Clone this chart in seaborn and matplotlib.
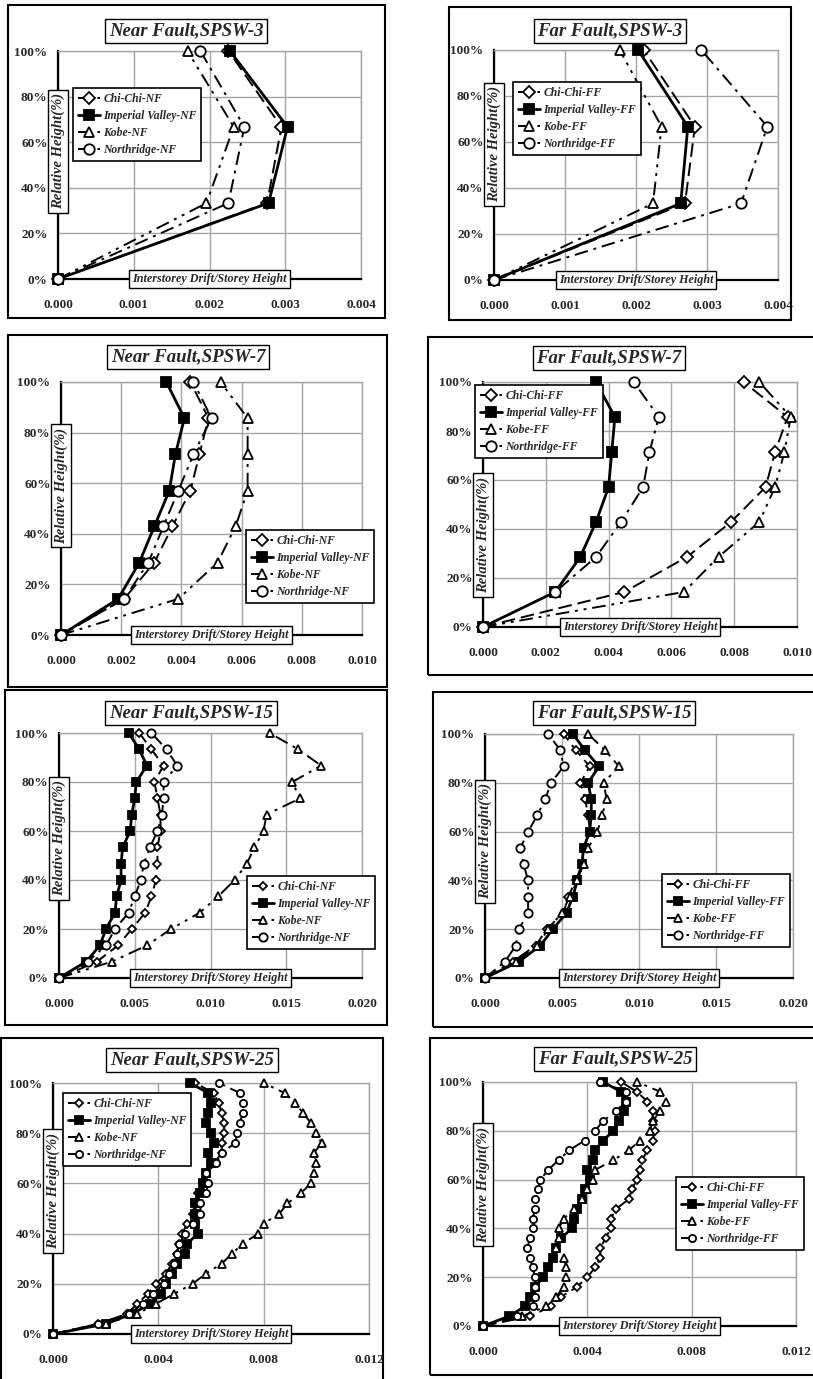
import numpy as np
import pandas as pd
import matplotlib
matplotlib.use("Agg")
import matplotlib.pyplot as plt
from matplotlib.patches import Rectangle
from matplotlib.ticker import MultipleLocator, FuncFormatter
import seaborn as sns

# Relative storey heights (%)
h3 = [0, 33.3, 66.7, 100]
h7 = [0, 14.3, 28.6, 42.9, 57.1, 71.4, 85.7, 100]
h15 = [0, 6.7, 13.3, 20, 26.7, 33.3, 40, 46.7, 53.3, 60, 66.7, 73.3, 80, 86.7, 93.3, 100]
h25 = [0, 4, 8, 12, 16, 20, 24, 28, 32, 36, 40, 44, 48, 52, 56, 60, 64, 68, 72, 76, 80,
       84, 88, 92, 96, 100]

records = ["Chi-Chi", "Imperial Valley", "Kobe", "Northridge"]

# SPSW-3
nf3_chichi = [0, 0.00276, 0.00295, 0.00225]
nf3_iv = [0, 0.00278, 0.00303, 0.00227]
nf3_kobe = [0, 0.00196, 0.00232, 0.00171]
nf3_north = [0, 0.00225, 0.00246, 0.00188]
ff3_chichi = [0, 0.00269, 0.00283, 0.00211]
ff3_iv = [0, 0.00263, 0.00273, 0.00203]
ff3_kobe = [0, 0.00224, 0.00236, 0.00177]
ff3_north = [0, 0.00348, 0.00385, 0.00292]

# SPSW-7
nf7_chichi = [0, 0.0021, 0.0031, 0.0037, 0.0043, 0.0046, 0.0049, 0.0043]
nf7_iv = [0, 0.0019, 0.0026, 0.0031, 0.0036, 0.0038, 0.0041, 0.0035]
nf7_kobe = [0, 0.0039, 0.0052, 0.0058, 0.0062, 0.0062, 0.0062, 0.0053]
nf7_north = [0, 0.0021, 0.0029, 0.0034, 0.0039, 0.0044, 0.0050, 0.0044]
ff7_chichi = [0, 0.0045, 0.0065, 0.0079, 0.0090, 0.0093, 0.0097, 0.0083]
ff7_iv = [0, 0.0023, 0.0031, 0.0036, 0.0040, 0.0041, 0.0042, 0.0036]
ff7_kobe = [0, 0.0064, 0.0075, 0.0088, 0.0093, 0.0096, 0.0098, 0.0088]
ff7_north = [0, 0.0023, 0.0036, 0.0044, 0.0051, 0.0053, 0.0056, 0.0048]

# SPSW-15
nf15_chichi = [0, 0.0025, 0.0039, 0.0048, 0.0057, 0.0061, 0.0064, 0.0065, 0.0065, 0.0067,
               0.0067, 0.0065, 0.0063, 0.0069, 0.0061, 0.0053]
nf15_iv = [0, 0.0018, 0.0027, 0.0031, 0.0037, 0.0038, 0.0041, 0.0041, 0.0042, 0.0047,
           0.0048, 0.0050, 0.0051, 0.0058, 0.0053, 0.0046]
nf15_kobe = [0, 0.0035, 0.0058, 0.0074, 0.0093, 0.0105, 0.0116, 0.0124, 0.0129, 0.0135,
             0.0137, 0.0159, 0.0154, 0.0173, 0.0158, 0.0139]
nf15_north = [0, 0.0019, 0.0031, 0.0037, 0.0046, 0.0050, 0.0054, 0.0056, 0.0060, 0.0065,
              0.0068, 0.0069, 0.0069, 0.0078, 0.0071, 0.0061]
ff15_chichi = [0, 0.0018, 0.0033, 0.0040, 0.0051, 0.0054, 0.0059, 0.0063, 0.0064, 0.0068,
               0.0067, 0.0065, 0.0062, 0.0068, 0.0059, 0.0051]
ff15_iv = [0, 0.0022, 0.0036, 0.0044, 0.0053, 0.0057, 0.0060, 0.0063, 0.0064, 0.0068,
           0.0069, 0.0069, 0.0067, 0.0074, 0.0065, 0.0057]
ff15_kobe = [0, 0.0020, 0.0034, 0.0041, 0.0050, 0.0055, 0.0060, 0.0064, 0.0067, 0.0073,
             0.0076, 0.0079, 0.0077, 0.0087, 0.0078, 0.0067]
ff15_north = [0, 0.0013, 0.0020, 0.0022, 0.0028, 0.0028, 0.0028, 0.0025, 0.0023, 0.0028,
              0.0034, 0.0039, 0.0043, 0.0051, 0.0049, 0.0041]

# SPSW-25
nf25_chichi = [0, 0.0017, 0.0028, 0.0032, 0.0036, 0.0039, 0.0043, 0.0045, 0.0047, 0.0048,
               0.0049, 0.0051, 0.0053, 0.0054, 0.0055, 0.0057, 0.0058, 0.0061, 0.0064,
               0.0064, 0.0065, 0.0065, 0.0064, 0.0063, 0.0061, 0.0054]
nf25_iv = [0, 0.0020, 0.0030, 0.0037, 0.0041, 0.0043, 0.0045, 0.0047, 0.0050, 0.0051,
           0.0055, 0.0054, 0.0054, 0.0054, 0.0056, 0.0057, 0.0058, 0.0060, 0.0059,
           0.0061, 0.0060, 0.0058, 0.0059, 0.0060, 0.0059, 0.0052]
nf25_kobe = [0, 0.0020, 0.0032, 0.0039, 0.0046, 0.0053, 0.0058, 0.0064, 0.0068, 0.0072,
             0.0078, 0.0080, 0.0086, 0.0089, 0.0094, 0.0098, 0.0099, 0.0100, 0.0099,
             0.0102, 0.0100, 0.0098, 0.0095, 0.0092, 0.0088, 0.0080]
nf25_north = [0, 0.0017, 0.0029, 0.0034, 0.0038, 0.0042, 0.0044, 0.0046, 0.0047, 0.0048,
              0.0050, 0.0053, 0.0056, 0.0056, 0.0058, 0.0059, 0.0058, 0.0062, 0.0064,
              0.0069, 0.0070, 0.0071, 0.0072, 0.0072, 0.0071, 0.0063]
ff25_chichi = [0, 0.0018, 0.0026, 0.0030, 0.0036, 0.0040, 0.0043, 0.0045, 0.0045, 0.0047,
               0.0049, 0.0049, 0.0051, 0.0056, 0.0057, 0.0059, 0.0060, 0.0061, 0.0063,
               0.0065, 0.0066, 0.0065, 0.0065, 0.0063, 0.0059, 0.0053]
ff25_iv = [0, 0.0010, 0.0016, 0.0018, 0.0020, 0.0023, 0.0025, 0.0027, 0.0028, 0.0030,
           0.0034, 0.0035, 0.0036, 0.0038, 0.0039, 0.0041, 0.0040, 0.0042, 0.0043,
           0.0046, 0.0050, 0.0052, 0.0054, 0.0055, 0.0053, 0.0046]
ff25_kobe = [0, 0.0015, 0.0024, 0.0028, 0.0031, 0.0032, 0.0032, 0.0031, 0.0028, 0.0029,
             0.0029, 0.0031, 0.0035, 0.0038, 0.0040, 0.0042, 0.0043, 0.0050, 0.0056,
             0.0060, 0.0064, 0.0065, 0.0068, 0.0070, 0.0068, 0.0059]
ff25_north = [0, 0.0013, 0.0019, 0.0020, 0.0020, 0.0020, 0.0019, 0.0018, 0.0017, 0.0018,
              0.0019, 0.0019, 0.0020, 0.0020, 0.0021, 0.0022, 0.0025, 0.0029, 0.0033,
              0.0039, 0.0043, 0.0046, 0.0051, 0.0055, 0.0055, 0.0045]

sns.set_style("white")
plt.rcParams["font.family"] = ["Liberation Serif", "DejaVu Serif"]
plt.rcParams["font.weight"] = "bold"

W, H = 813, 1379
fig = plt.figure(figsize=(W / 100, H / 100), dpi=100)

# line / marker look of each record
styles = {
    "Chi-Chi": dict(marker="D", linestyle=(0, (7, 3)), linewidth=1.4, markerfacecolor="white", ms=0.75),
    "Imperial Valley": dict(marker="s", linestyle="-", linewidth=2.0, markerfacecolor="black", ms=1.0),
    "Kobe": dict(marker="^", linestyle=(0, (7, 3, 1.5, 3, 1.5, 3)), linewidth=1.4, markerfacecolor="white", ms=1.0),
    "Northridge": dict(marker="o", linestyle=(0, (7, 3, 1.5, 3)), linewidth=1.4, markerfacecolor="white", ms=1.0),
}

# panel layout in pixels: frame box, plot area, title centre, legend corner;
# rh = height (axes fraction) of the "Relative Height" label
panels = [
    dict(title="Near Fault,SPSW-3", sfx="NF", h=h3, data=[nf3_chichi, nf3_iv, nf3_kobe, nf3_north],
         frame=(8, 5, 385, 318), area=(58, 51, 361, 279), tc=(186, 31), leg=(73, 88),
         xmax=0.004, xstep=0.001, minor=None, msz=7.5, rh=0.56),
    dict(title="Far Fault,SPSW-3", sfx="FF", h=h3, data=[ff3_chichi, ff3_iv, ff3_kobe, ff3_north],
         frame=(449, 7, 791, 320), area=(494, 50, 778, 280), tc=(610, 31), leg=(513, 82),
         xmax=0.004, xstep=0.001, minor=None, msz=7.5, rh=0.59),
    dict(title="Near Fault,SPSW-7", sfx="NF", h=h7, data=[nf7_chichi, nf7_iv, nf7_kobe, nf7_north],
         frame=(8, 335, 387, 687), area=(61, 382, 362, 635), tc=(188, 357), leg=(246, 530),
         xmax=0.010, xstep=0.002, minor=None, msz=7.5, rh=0.59),
    dict(title="Far Fault,SPSW-7", sfx="FF", h=h7, data=[ff7_chichi, ff7_iv, ff7_kobe, ff7_north],
         frame=(428, 337, 820, 675), area=(483, 382, 797, 627), tc=(609, 358), leg=(475, 385),
         xmax=0.010, xstep=0.002, minor=None, msz=7.5, rh=0.375),
    dict(title="Near Fault,SPSW-15", sfx="NF", h=h15, data=[nf15_chichi, nf15_iv, nf15_kobe, nf15_north],
         frame=(5, 690, 387, 1025), area=(59, 733, 362, 978), tc=(191, 713), leg=(247, 876),
         xmax=0.020, xstep=0.005, minor=0.001, msz=6, rh=0.57),
    dict(title="Far Fault,SPSW-15", sfx="FF", h=h15, data=[ff15_chichi, ff15_iv, ff15_kobe, ff15_north],
         frame=(433, 692, 820, 1027), area=(485, 734, 793, 978), tc=(614, 713), leg=(662, 874),
         xmax=0.020, xstep=0.005, minor=0.001, msz=6, rh=0.56),
    dict(title="Near Fault,SPSW-25", sfx="NF", h=h25, data=[nf25_chichi, nf25_iv, nf25_kobe, nf25_north],
         frame=(1, 1038, 383, 1390), area=(53, 1083, 369, 1334), tc=(192, 1060), leg=(63, 1093),
         xmax=0.012, xstep=0.004, minor=0.001, msz=5.2, rh=0.57),
    dict(title="Far Fault,SPSW-25", sfx="FF", h=h25, data=[ff25_chichi, ff25_iv, ff25_kobe, ff25_north],
         frame=(430, 1038, 820, 1375), area=(483, 1082, 796, 1326), tc=(615, 1059), leg=(676, 1177),
         xmax=0.012, xstep=0.004, minor=0.001, msz=5.2, rh=0.58),
]

box = dict(boxstyle="square,pad=0.25", fc="white", ec="black", lw=1.0)

for p in panels:
    # outer frame of the panel
    fx0, fy0, fx1, fy1 = p["frame"]
    fig.patches.append(Rectangle((fx0 / W, 1 - fy1 / H), (fx1 - fx0) / W, (fy1 - fy0) / H,
                                 transform=fig.transFigure, fill=False, ec="black", lw=1.5))
    x0, y0, x1, y1 = p["area"]
    ax = fig.add_axes([x0 / W, 1 - y1 / H, (x1 - x0) / W, (y1 - y0) / H])

    for rec, vals in zip(records, p["data"]):
        st = styles[rec]
        df = pd.DataFrame({"drift": vals, "height": p["h"]})
        sns.lineplot(data=df, x="drift", y="height", sort=False, estimator=None, ax=ax,
                     color="black", linestyle=st["linestyle"], linewidth=st["linewidth"],
                     marker=st["marker"], markersize=p["msz"] * st["ms"],
                     markerfacecolor=st["markerfacecolor"], markeredgecolor="black",
                     markeredgewidth=1.3, label=f"{rec}-{p['sfx']}", clip_on=False, zorder=3)

    ax.set(xlabel="", ylabel="")
    ax.set_xlim(0, p["xmax"])
    ax.set_ylim(0, 100)
    ax.xaxis.set_major_locator(MultipleLocator(p["xstep"]))
    ax.yaxis.set_major_locator(MultipleLocator(20))
    ax.xaxis.set_major_formatter(FuncFormatter(lambda v, pos: f"{v:.3f}"))
    ax.yaxis.set_major_formatter(FuncFormatter(lambda v, pos: f"{v:.0f}%"))
    if p["minor"]:
        ax.xaxis.set_minor_locator(MultipleLocator(p["minor"]))
        ax.tick_params(axis="x", which="minor", direction="inout", length=7, width=1.0, color="black")
    ax.grid(True, which="major", color="#a6a6a6", lw=1.0)
    ax.set_axisbelow(True)
    for side in ["left", "bottom"]:
        ax.spines[side].set_color("black")
        ax.spines[side].set_linewidth(1.6)
    for side in ["top", "right"]:
        ax.spines[side].set_color("#a6a6a6")
        ax.spines[side].set_linewidth(1.0)
    ax.tick_params(axis="both", which="major", direction="inout", length=7, width=1.0,
                   color="black", labelsize=9.5)
    ax.tick_params(axis="x", pad=11)
    ax.tick_params(axis="y", pad=4)
    for lab in ax.get_xticklabels() + ax.get_yticklabels():
        lab.set_fontweight("bold")

    # axis titles sitting on the axes
    ax.text(0.5, 0, "Interstorey Drift/Storey Height", transform=ax.transAxes, ha="center",
            va="center", fontsize=8.7, style="italic", weight="bold", bbox=box, zorder=6)
    ax.text(0.0, p["rh"], "Relative Height(%)", transform=ax.transAxes, ha="center", va="center",
            rotation=90, fontsize=10.5, style="italic", weight="bold", bbox=box, zorder=6)

    lx, ly = p["leg"]
    leg = ax.legend(loc="upper left", bbox_to_anchor=(lx / W, 1 - ly / H),
                    bbox_transform=fig.transFigure, frameon=True, fancybox=False,
                    edgecolor="black", framealpha=1, handlelength=1.9, handletextpad=0.3,
                    borderpad=0.4, borderaxespad=0, labelspacing=0.45,
                    prop=dict(size=8.4, style="italic", weight="bold"))
    leg.get_frame().set_linewidth(1.2)
    leg.set_zorder(7)

    tx, ty = p["tc"]
    fig.text(tx / W, 1 - ty / H, p["title"], ha="center", va="center", fontsize=13.5,
             style="italic", weight="bold", bbox=dict(boxstyle="square,pad=0.2", fc="white",
                                                        ec="black", lw=1.0))

fig.savefig("out.png", dpi=100)
